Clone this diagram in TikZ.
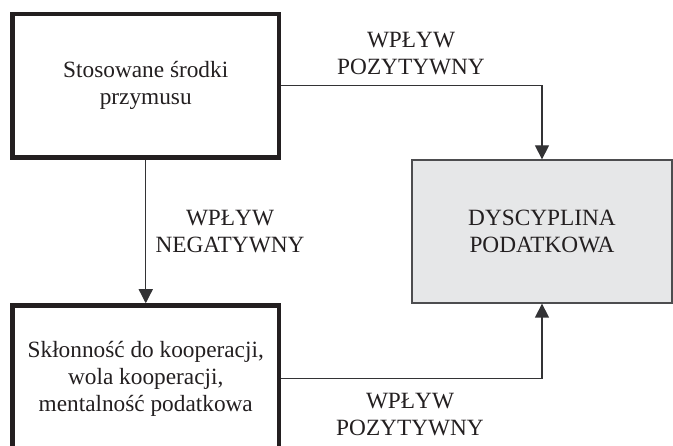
\documentclass[tikz,border=0pt]{standalone}
\usepackage{fontspec}
\setmainfont{Liberation Serif}
\usetikzlibrary{arrows.meta}
\definecolor{ink}{HTML}{231F20}
\definecolor{linec}{HTML}{333335}
\definecolor{greyfill}{HTML}{E6E7E8}
\definecolor{greyline}{HTML}{4D4D4F}
\tikzset{
  txt/.style={font=\fontsize{23.3}{27}\selectfont, text=ink, align=center, inner sep=0pt},
  thickbox/.style={draw=ink, line width=4.5pt, fill=white, txt},
  greybox/.style={draw=greyline, line width=1.3pt, fill=greyfill, txt},
  conn/.style={draw=linec, line width=1.3pt, -{Triangle[width=14pt,length=14pt]}},
  lab/.style={txt}
}
\begin{document}
\begin{tikzpicture}[x=1pt,y=-1pt]
\useasboundingbox (0,0) rectangle (673,446);
\clip (0,0) rectangle (673,446);
\node[thickbox, minimum width=266.5pt, minimum height=143.5pt] (top) at (145.75,85.75) {Stosowane środki\\przymusu};
\node[thickbox, minimum width=266.5pt, minimum height=146pt] (bot) at (145.75,378.5) {Skłonność do kooperacji,\\wola kooperacji,\\mentalność podatkowa};
\node[greybox, minimum width=260pt, minimum height=143pt] (dys) at (542,231.5) {DYSCYPLINA\\PODATKOWA};
\draw[conn] (top.east) -| (dys.north);
\draw[conn] (top) -- (bot);
\draw[conn] (bot.east) -| (dys.south);
\node[lab] (l1) at (411,54) {WPŁYW\\POZYTYWNY};
\node[lab] (l2) at (230,231.5) {WPŁYW\\NEGATYWNY};
\node[lab] (l3) at (410,414.5) {WPŁYW\\POZYTYWNY};
\end{tikzpicture}
\end{document}
